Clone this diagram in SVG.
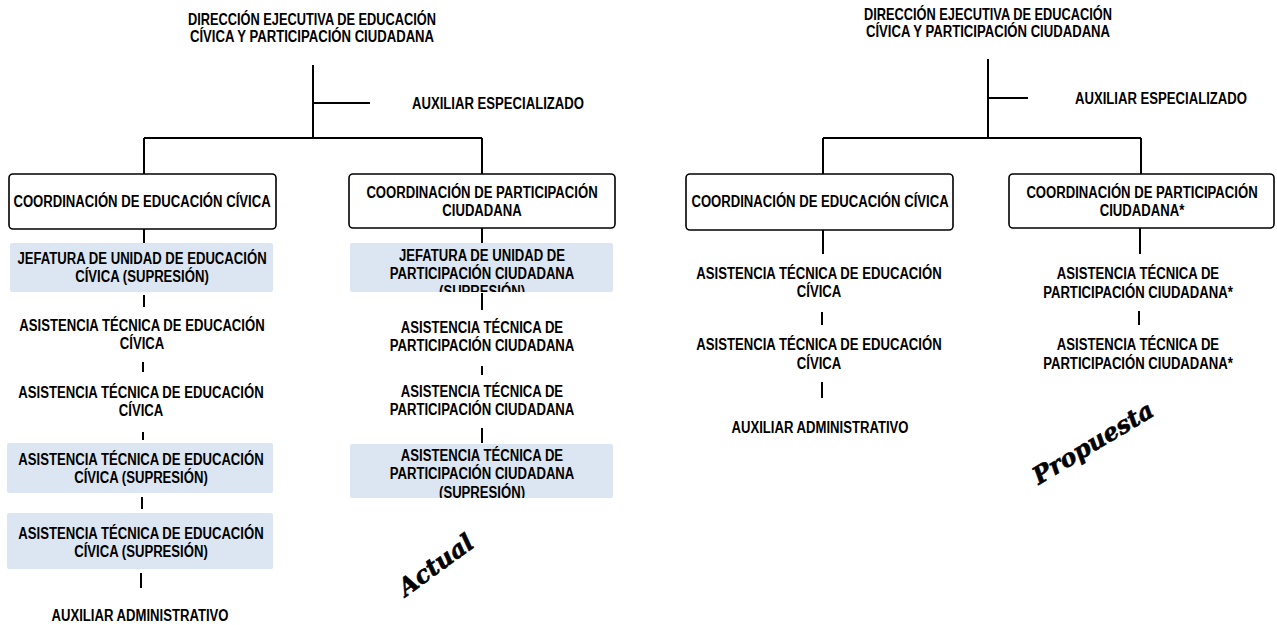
<svg xmlns="http://www.w3.org/2000/svg" width="1277" height="625" viewBox="0 0 1277 625">
<style>
.t{font-family:"Liberation Sans",Arial,sans-serif;font-weight:bold;font-size:16px;text-anchor:middle;fill:#000}
.ts{font-family:"Liberation Sans",Arial,sans-serif;font-weight:bold;font-size:16px;text-anchor:start;fill:#000}
.ln{stroke:#000;stroke-width:2;fill:none}
.box{fill:#fff;stroke:#000;stroke-width:1.6}
.sh{fill:#dce6f2}
.w{font-family:"DejaVu Serif",serif;font-weight:bold;font-style:italic;font-size:24px;text-anchor:middle;fill:#000;stroke:#000;stroke-width:0.6}
</style>
<defs>
<clipPath id="cpJ"><rect x="350" y="243" width="263" height="49"/></clipPath>
<clipPath id="cpA"><rect x="350" y="444" width="263" height="54"/></clipPath>
</defs>

<g id="connectors">
<path class="ln" d="M313 65V138M313 103H370M144 138H482M144 138V174M482 138V174"/>
<path class="ln" d="M144 229V243M482 228V243M144 295V307M482 293V310"/>
<path class="ln" d="M143 362V372M143 432V440M142 497V509M141 573V588"/>
<path class="ln" d="M482 366V375M482 428V443"/>
<path class="ln" d="M988 59V138M988 98H1028M823 138H1141M823 138V174M1141 138V174"/>
<path class="ln" d="M823 230V254M1140 228V254M822 312V325M822 382V398M1139 311V325"/>
</g>

<!-- ===== ACTUAL ===== -->
<g id="a-direccion">
<text class="t" transform="translate(312 25) scale(.8 1)">DIRECCIÓN EJECUTIVA DE EDUCACIÓN</text>
<text class="t" transform="translate(312 42) scale(.82 1)">CÍVICA Y PARTICIPACIÓN CIUDADANA</text>
</g>
<g id="a-auxesp">
<text class="ts" transform="translate(412 109) scale(.82 1)">AUXILIAR ESPECIALIZADO</text>
</g>
<g id="a-coord-ec">
<rect class="box" x="9" y="174" width="267" height="55" rx="4"/>
<text class="t" transform="translate(142 207) scale(.82 1)">COORDINACIÓN DE EDUCACIÓN CÍVICA</text>
</g>
<g id="a-coord-pc">
<rect class="box" x="349" y="174" width="266" height="54" rx="4"/>
<text class="t" transform="translate(482 198) scale(.82 1)">COORDINACIÓN DE PARTICIPACIÓN</text>
<text class="t" transform="translate(482 216) scale(.82 1)">CIUDADANA</text>
</g>
<g id="a-jef-ec">
<rect class="sh" x="10" y="243" width="263" height="49" rx="2"/>
<text class="t" transform="translate(142 264) scale(.82 1)">JEFATURA DE UNIDAD DE EDUCACIÓN</text>
<text class="t" transform="translate(142 282) scale(.82 1)">CÍVICA (SUPRESIÓN)</text>
</g>
<g id="a-jef-pc">
<rect class="sh" x="350" y="243" width="263" height="49" rx="2"/>
<g clip-path="url(#cpJ)">
<text class="t" transform="translate(482 261) scale(.82 1)">JEFATURA DE UNIDAD DE</text>
<text class="t" transform="translate(482 279) scale(.82 1)">PARTICIPACIÓN CIUDADANA</text>
<text class="t" transform="translate(482 297) scale(.82 1)">(SUPRESIÓN)</text>
</g>
</g>
<g id="a-at-ec1">
<text class="t" transform="translate(142 331) scale(.82 1)">ASISTENCIA TÉCNICA DE EDUCACIÓN</text>
<text class="t" transform="translate(142 349) scale(.82 1)">CÍVICA</text>
</g>
<g id="a-at-ec2">
<text class="t" transform="translate(141 398) scale(.82 1)">ASISTENCIA TÉCNICA DE EDUCACIÓN</text>
<text class="t" transform="translate(141 416) scale(.82 1)">CÍVICA</text>
</g>
<g id="a-at-ec3">
<rect class="sh" x="7" y="443" width="266" height="50" rx="2"/>
<text class="t" transform="translate(141 465) scale(.82 1)">ASISTENCIA TÉCNICA DE EDUCACIÓN</text>
<text class="t" transform="translate(141 483) scale(.82 1)">CÍVICA (SUPRESIÓN)</text>
</g>
<g id="a-at-ec4">
<rect class="sh" x="7" y="513" width="266" height="56" rx="2"/>
<text class="t" transform="translate(141 539) scale(.82 1)">ASISTENCIA TÉCNICA DE EDUCACIÓN</text>
<text class="t" transform="translate(141 557) scale(.82 1)">CÍVICA (SUPRESIÓN)</text>
</g>
<g id="a-auxadm">
<text class="t" transform="translate(140 621) scale(.82 1)">AUXILIAR ADMINISTRATIVO</text>
</g>
<g id="a-at-pc1">
<text class="t" transform="translate(482 333) scale(.82 1)">ASISTENCIA TÉCNICA DE</text>
<text class="t" transform="translate(482 351) scale(.82 1)">PARTICIPACIÓN CIUDADANA</text>
</g>
<g id="a-at-pc2">
<text class="t" transform="translate(482 397) scale(.82 1)">ASISTENCIA TÉCNICA DE</text>
<text class="t" transform="translate(482 415) scale(.82 1)">PARTICIPACIÓN CIUDADANA</text>
</g>
<g id="a-at-pc3">
<rect class="sh" x="350" y="444" width="263" height="54" rx="2"/>
<g clip-path="url(#cpA)">
<text class="t" transform="translate(482 461) scale(.82 1)">ASISTENCIA TÉCNICA DE</text>
<text class="t" transform="translate(482 479) scale(.82 1)">PARTICIPACIÓN CIUDADANA</text>
<text class="t" transform="translate(482 498) scale(.82 1)">(SUPRESIÓN)</text>
</g>
</g>
<g id="label-actual">
<text class="w" transform="translate(436 565) rotate(-36)" y="8">Actual</text>
</g>

<!-- ===== PROPUESTA ===== -->
<g id="p-direccion">
<text class="t" transform="translate(988 20) scale(.8 1)">DIRECCIÓN EJECUTIVA DE EDUCACIÓN</text>
<text class="t" transform="translate(988 37) scale(.82 1)">CÍVICA Y PARTICIPACIÓN CIUDADANA</text>
</g>
<g id="p-auxesp">
<text class="ts" transform="translate(1075 104) scale(.82 1)">AUXILIAR ESPECIALIZADO</text>
</g>
<g id="p-coord-ec">
<rect class="box" x="686" y="174" width="267" height="56" rx="4"/>
<text class="t" transform="translate(820 207) scale(.82 1)">COORDINACIÓN DE EDUCACIÓN CÍVICA</text>
</g>
<g id="p-coord-pc">
<rect class="box" x="1009" y="174" width="265" height="54" rx="4"/>
<text class="t" transform="translate(1142 198) scale(.82 1)">COORDINACIÓN DE PARTICIPACIÓN</text>
<text class="t" transform="translate(1142 216) scale(.82 1)">CIUDADANA*</text>
</g>
<g id="p-at-ec1">
<text class="t" transform="translate(819 279) scale(.82 1)">ASISTENCIA TÉCNICA DE EDUCACIÓN</text>
<text class="t" transform="translate(819 297) scale(.82 1)">CÍVICA</text>
</g>
<g id="p-at-ec2">
<text class="t" transform="translate(819 350) scale(.82 1)">ASISTENCIA TÉCNICA DE EDUCACIÓN</text>
<text class="t" transform="translate(819 369) scale(.82 1)">CÍVICA</text>
</g>
<g id="p-auxadm">
<text class="t" transform="translate(820 433) scale(.82 1)">AUXILIAR ADMINISTRATIVO</text>
</g>
<g id="p-at-pc1">
<text class="t" transform="translate(1138 279) scale(.82 1)">ASISTENCIA TÉCNICA DE</text>
<text class="t" transform="translate(1138 298) scale(.82 1)">PARTICIPACIÓN CIUDADANA*</text>
</g>
<g id="p-at-pc2">
<text class="t" transform="translate(1138 350) scale(.82 1)">ASISTENCIA TÉCNICA DE</text>
<text class="t" transform="translate(1138 369) scale(.82 1)">PARTICIPACIÓN CIUDADANA*</text>
</g>
<g id="label-propuesta">
<text class="w" transform="translate(1093 443) rotate(-31)" y="8" font-size="25">Propuesta</text>
</g>
</svg>
